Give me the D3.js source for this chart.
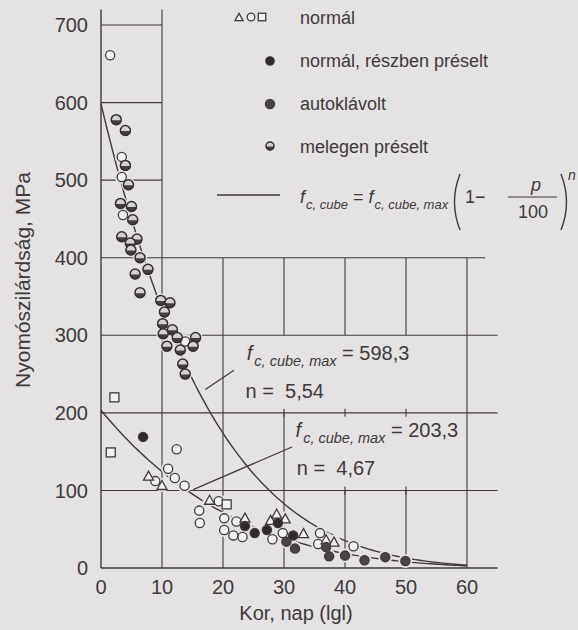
<!DOCTYPE html>
<html>
<head>
<meta charset="utf-8">
<script src="https://cdn.jsdelivr.net/npm/d3@7"></script>
<style>
  html, body { margin: 0; padding: 0; background: #e4e2e2; }
  svg { display: block; font-family: "Liberation Sans", Arial, sans-serif; }
</style>
</head>
<body>
<div id="chart"></div>
<script>
// values (x: Kor, y: MPa)
var xTicks = [0, 10, 20, 30, 40, 50, 60];
var yTicks = [0, 100, 200, 300, 400, 500, 600, 700];

var normalCircles = [[1.5, 661], [3.4, 530], [3.4, 504], [3.6, 455], [13.8, 292], [12.4, 153],
  [11.0, 128], [8.9, 112], [12.1, 116], [13.7, 106], [16.1, 74], [16.2, 58], [19.3, 86],
  [20.2, 64], [20.2, 49], [21.7, 42], [23.2, 40], [22.2, 60], [28.1, 37], [29.8, 45],
  [35.9, 45], [35.6, 31], [41.4, 28]];
var normalTriangles = [[7.8, 119], [10.0, 107], [17.8, 88], [23.6, 65], [27.8, 62], [28.8, 70],
  [30.2, 64], [33.2, 45], [36.9, 37], [38.2, 34]];
var normalSquares = [[2.2, 220], [1.6, 149], [20.6, 82]];
var partlyPressed = [[6.9, 169], [23.6, 54], [25.2, 45], [27.2, 49], [29.0, 58], [31.5, 42]];
var autoclaved = [[30.4, 34], [31.8, 25], [36.9, 27], [37.4, 15], [40.0, 16], [43.2, 10],
  [46.6, 14], [49.9, 9]];
var hotPressed = [[2.5, 578], [4.0, 564], [4.0, 519], [4.5, 494], [3.2, 470], [5.0, 466],
  [5.2, 449], [3.4, 427], [5.9, 424], [4.8, 419], [4.9, 410], [6.4, 400], [5.6, 379],
  [7.7, 385], [6.4, 355], [9.8, 345], [11.3, 342], [10.4, 330], [10.1, 315], [10.2, 302],
  [11.7, 307], [12.5, 297], [15.5, 297], [15.1, 286], [13.0, 281], [10.8, 286], [13.4, 263],
  [13.8, 250]];

// fitted curves f = fmax * (1 - p/100)^n
var fitMax = [598.3, 203.3];
var fitN = [5.54, 4.67];
var fitLabel = ['598,3', '203,3'];
var fitNLabel = ['5,54', '4,67'];

var W = 578, H = 630
  , bg = '#e4e2e2'
  , ink = '#3f393b'
  , light = '#f2f1f1';

var x = d3.scaleLinear().domain([0, 65]).range([101, 497.5]);
var y = d3.scaleLinear().domain([0, 720]).range([568, 9.5]);

var svg = d3.select('#chart').append('svg')
  .attr('width', W)
  .attr('height', H);

svg.append('rect').attr('width', W).attr('height', H).attr('fill', bg);

// grid: segments in data units, the scan leaves gaps for legend and labels
var hGrid = [[700, 0, 10], [600, 0, 10], [500, 0, 10], [400, 0, 63], [300, 0, 65], [200, 0, 65], [100, 0, 65]];
var vGrid = [[10, 0, 720], [20, 0, 400], [30, 0, 200], [30, 300, 400], [40, 0, 100], [40, 300, 400],
  [50, 0, 100], [50, 300, 400], [60, 0, 400]];
var smallTicks = [[30, 200], [40, 200], [50, 200], [40, 100], [50, 100]];

var grid = svg.append('g').attr('stroke', ink).attr('stroke-width', 1.1);
grid.selectAll('line.h').data(hGrid).enter().append('line')
  .attr('x1', function (d) { return x(d[1]); })
  .attr('x2', function (d) { return x(d[2]); })
  .attr('y1', function (d) { return y(d[0]); })
  .attr('y2', function (d) { return y(d[0]); });
grid.selectAll('line.v').data(vGrid).enter().append('line')
  .attr('x1', function (d) { return x(d[0]); })
  .attr('x2', function (d) { return x(d[0]); })
  .attr('y1', function (d) { return y(d[1]); })
  .attr('y2', function (d) { return y(d[2]); });
grid.selectAll('line.t').data(smallTicks).enter().append('line')
  .attr('x1', function (d) { return x(d[0]); })
  .attr('x2', function (d) { return x(d[0]); })
  .attr('y1', function (d) { return y(d[1]) - 4; })
  .attr('y2', function (d) { return y(d[1]) + 4; });

// axes (plain lines, labels set by hand like the print)
svg.append('line').attr('x1', x(0)).attr('x2', x(0)).attr('y1', y(0)).attr('y2', y(720))
  .attr('stroke', ink).attr('stroke-width', 1.4);
svg.append('line').attr('x1', x(0)).attr('x2', x(65)).attr('y1', y(0)).attr('y2', y(0))
  .attr('stroke', ink).attr('stroke-width', 1.4);

svg.append('g').selectAll('text').data(yTicks).enter().append('text')
  .attr('x', 88)
  .attr('y', function (d) { return y(d); })
  .attr('dy', '.36em')
  .attr('text-anchor', 'end')
  .attr('font-size', 20)
  .attr('fill', ink)
  .text(function (d) { return d; });

svg.append('g').selectAll('text').data(xTicks).enter().append('text')
  .attr('x', function (d) { return x(d); })
  .attr('y', 594)
  .attr('text-anchor', 'middle')
  .attr('font-size', 20)
  .attr('fill', ink)
  .text(function (d) { return d; });

svg.append('text')
  .attr('x', 296).attr('y', 620)
  .attr('text-anchor', 'middle')
  .attr('font-size', 20)
  .attr('fill', ink)
  .text('Kor, nap (lgl)');

svg.append('text')
  .attr('transform', 'translate(30,280) rotate(-90)')
  .attr('text-anchor', 'middle')
  .attr('font-size', 21)
  .attr('fill', ink)
  .text('Nyomószilárdság, MPa');

// fitted curves
var line = d3.line()
  .x(function (d) { return x(d[0]); })
  .y(function (d) { return y(d[1]); });
fitMax.forEach(function (fm, i) {
  var pts = d3.range(0, 60.01, 0.5).map(function (p) {
    return [p, fm * Math.pow(1 - p / 100, fitN[i])];
  });
  svg.append('path').datum(pts)
    .attr('d', line)
    .attr('fill', 'none')
    .attr('stroke', ink)
    .attr('stroke-width', 1.4);
});

// annotation leaders
var leaders = [[[17.1, 230], [21.8, 255]], [[15.1, 101], [31.3, 156]]];
svg.append('g').selectAll('line').data(leaders).enter().append('line')
  .attr('x1', function (d) { return x(d[0][0]); })
  .attr('y1', function (d) { return y(d[0][1]); })
  .attr('x2', function (d) { return x(d[1][0]); })
  .attr('y2', function (d) { return y(d[1][1]); })
  .attr('stroke', ink).attr('stroke-width', 1.2);

function fLabel(g, px, py, value) {
  var t = g.append('text').attr('x', px).attr('y', py).attr('font-size', 20).attr('fill', ink);
  t.append('tspan').attr('font-style', 'italic').text('f');
  t.append('tspan').attr('font-style', 'italic').attr('font-size', 14.5).attr('dy', 6).attr('dx', 2).text('c, cube, max');
  t.append('tspan').attr('dy', -6).text(' = ' + value);
}
var ann = [[23.9, 268], [31.9, 169]];
var annN = [[23.7, 219], [32.1, 120]];
ann.forEach(function (a, i) {
  fLabel(svg, x(a[0]), y(a[1]), fitLabel[i]);
  svg.append('text').attr('x', x(annN[i][0])).attr('y', y(annN[i][1]))
    .attr('font-size', 20).attr('fill', ink)
    .attr('xml:space', 'preserve')
    .text('n =  ' + fitNLabel[i]);
});

// halos break grid and curves around markers, as in the print
var all = [].concat(normalCircles, normalTriangles, normalSquares, partlyPressed, autoclaved, hotPressed);
svg.append('g').selectAll('circle').data(all).enter().append('circle')
  .attr('cx', function (d) { return x(d[0]); })
  .attr('cy', function (d) { return y(d[1]); })
  .attr('r', 7)
  .attr('fill', bg);

var marks = svg.append('g');
function drawCircle(g, cx, cy, r, fill) {
  g.append('circle').attr('cx', cx).attr('cy', cy).attr('r', r)
    .attr('fill', fill).attr('stroke', ink).attr('stroke-width', 1.3);
}
function drawTriangle(g, cx, cy, s) {
  var h = s * 0.9;
  g.append('path')
    .attr('d', 'M' + cx + ',' + (cy - h / 2) + 'L' + (cx + s / 2) + ',' + (cy + h / 2) + 'L' + (cx - s / 2) + ',' + (cy + h / 2) + 'Z')
    .attr('fill', light).attr('stroke', ink).attr('stroke-width', 1.3);
}
function drawSquare(g, cx, cy, s) {
  g.append('rect').attr('x', cx - s / 2).attr('y', cy - s / 2).attr('width', s).attr('height', s)
    .attr('fill', light).attr('stroke', ink).attr('stroke-width', 1.3);
}
function drawHot(g, cx, cy, r) {
  g.append('circle').attr('cx', cx).attr('cy', cy).attr('r', r).attr('fill', '#d4d1d1');
  g.append('path')
    .attr('d', 'M' + (cx - r) + ',' + (cy + 0.5) + 'A' + r + ',' + r + ' 0 0,0 ' + (cx + r) + ',' + (cy + 0.5) + 'Z')
    .attr('fill', '#443e40');
  g.append('circle').attr('cx', cx).attr('cy', cy).attr('r', r)
    .attr('fill', 'none').attr('stroke', '#332e30').attr('stroke-width', 1.5);
}

normalCircles.forEach(function (d) { drawCircle(marks, x(d[0]), y(d[1]), 4.6, light); });
normalTriangles.forEach(function (d) { drawTriangle(marks, x(d[0]), y(d[1]), 10); });
normalSquares.forEach(function (d) { drawSquare(marks, x(d[0]), y(d[1]), 9); });
partlyPressed.forEach(function (d) { drawCircle(marks, x(d[0]), y(d[1]), 4.6, '#2e292b'); });
autoclaved.forEach(function (d) { drawCircle(marks, x(d[0]), y(d[1]), 4.6, '#4a4446'); });
hotPressed.forEach(function (d) { drawHot(marks, x(d[0]), y(d[1]), 5); });

// legend
var legendItems = ['normál', 'normál, részben préselt', 'autoklávolt', 'melegen préselt'];
var leg = svg.append('g');
leg.selectAll('text').data(legendItems).enter().append('text')
  .attr('x', 300)
  .attr('y', function (d, i) { return 24 + i * 43; })
  .attr('font-size', 18)
  .attr('fill', ink)
  .text(function (d) { return d; });
drawTriangle(leg, 239, 17, 8);
drawCircle(leg, 251, 17, 3.8, light);
drawSquare(leg, 262, 17, 7.5);
drawCircle(leg, 270, 61, 4.2, '#2e292b');
drawCircle(leg, 270, 104, 4.6, '#4a4446');
drawHot(leg, 270, 146, 4);

leg.append('line').attr('x1', 217).attr('x2', 280).attr('y1', 195).attr('y2', 195)
  .attr('stroke', ink).attr('stroke-width', 1.3);

// formula f_c,cube = f_c,cube,max (1 - p/100)^n
var ft = leg.append('text').attr('x', 300).attr('y', 203).attr('font-size', 18).attr('fill', ink);
ft.append('tspan').attr('font-style', 'italic').text('f');
ft.append('tspan').attr('font-style', 'italic').attr('font-size', 13).attr('dy', 6).attr('dx', 1).text('c, cube');
ft.append('tspan').attr('dy', -6).text(' = ');
ft.append('tspan').attr('font-style', 'italic').text('f');
ft.append('tspan').attr('font-style', 'italic').attr('font-size', 13).attr('dy', 6).attr('dx', 1).text('c, cube, max');

leg.append('path').attr('d', 'M460,174 Q449,202 460,230')
  .attr('fill', 'none').attr('stroke', ink).attr('stroke-width', 1.4);
leg.append('text').attr('x', 465).attr('y', 203).attr('font-size', 18).attr('fill', ink).text('1−');
leg.append('line').attr('x1', 508).attr('x2', 557).attr('y1', 197).attr('y2', 197)
  .attr('stroke', ink).attr('stroke-width', 1.2);
leg.append('text').attr('x', 536).attr('y', 191).attr('text-anchor', 'middle').attr('font-size', 18)
  .attr('font-style', 'italic').attr('fill', ink).text('p');
leg.append('text').attr('x', 533).attr('y', 218).attr('text-anchor', 'middle').attr('font-size', 18)
  .attr('fill', ink).text('100');
leg.append('path').attr('d', 'M561,174 Q572,202 561,230')
  .attr('fill', 'none').attr('stroke', ink).attr('stroke-width', 1.4);
leg.append('text').attr('x', 568).attr('y', 180).attr('font-size', 14)
  .attr('font-style', 'italic').attr('fill', ink).text('n');
</script>
</body>
</html>
